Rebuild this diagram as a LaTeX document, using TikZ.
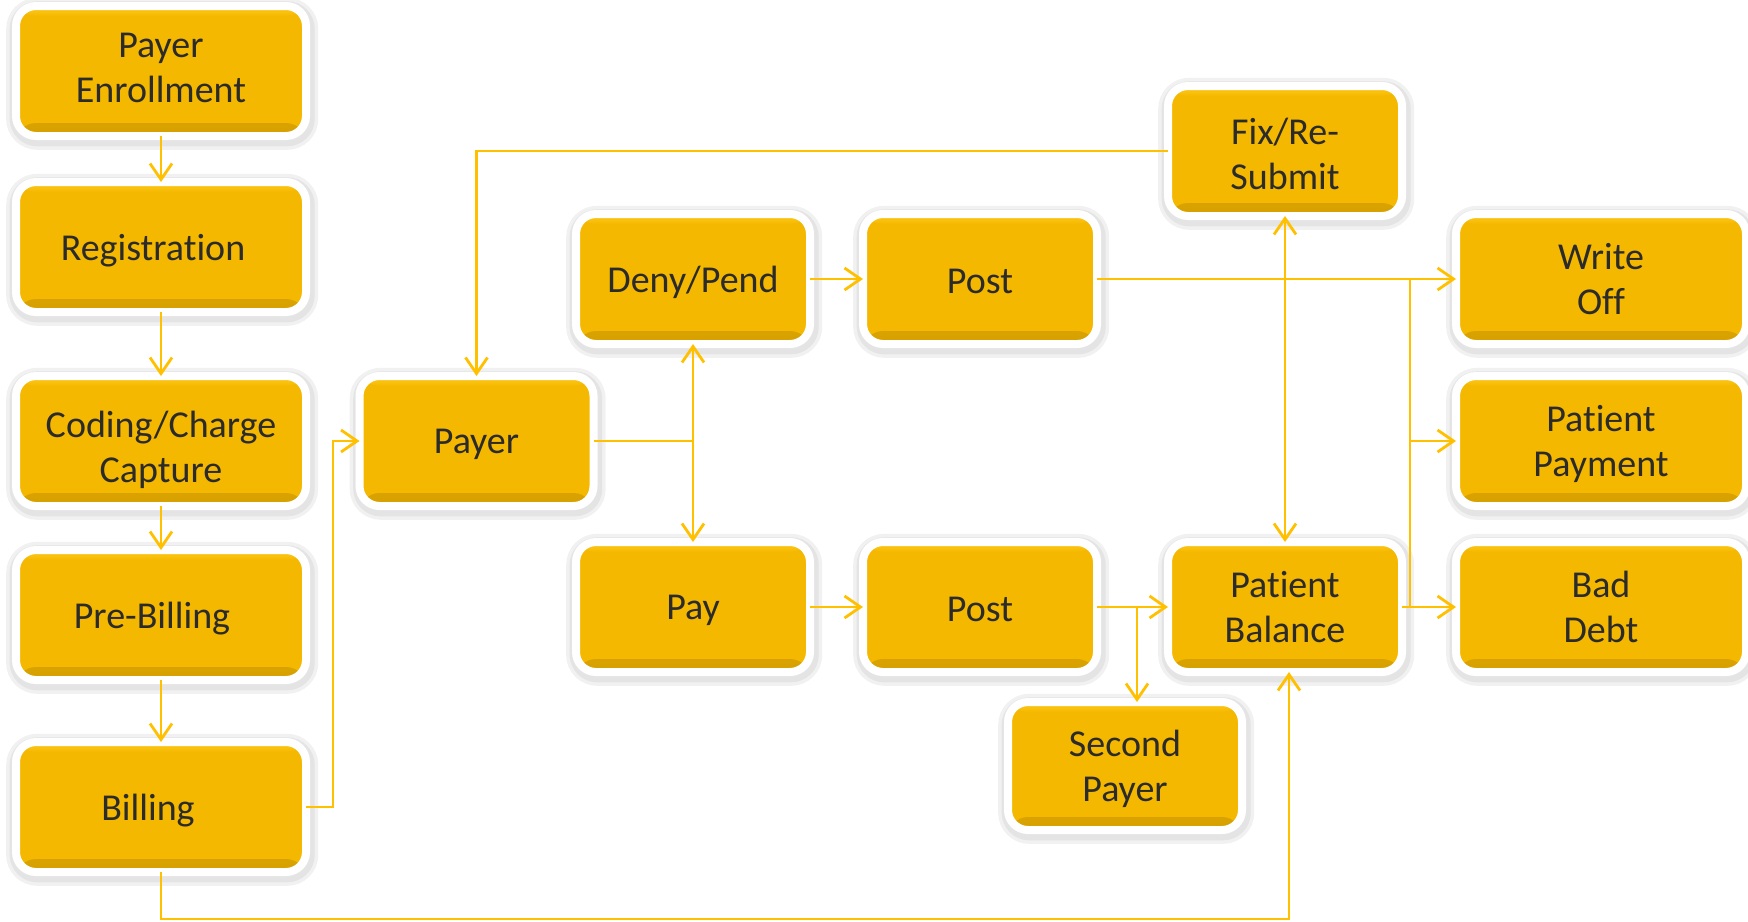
\documentclass[tikz,border=0pt]{standalone}
\usepackage{fontspec}
\setmainfont{Carlito}[Ligatures={CommonOff,ContextualOff}]
\usetikzlibrary{arrows.meta}
\definecolor{boxy}{HTML}{F5B800}
\definecolor{rim}{HTML}{D6A000}
\definecolor{lite}{HTML}{FFCB1F}
\definecolor{linec}{HTML}{FFC000}
\definecolor{txt}{HTML}{2B2B2B}
\tikzset{
  halo/.style={preaction={draw=black, line width=#1, opacity=0.055, fill=none,
      transform canvas={xshift=0.6pt, yshift=-1.4pt}}},
  box/.style={rounded corners=10pt, fill=boxy, draw=white, line width=4pt,
    inner sep=0pt, outer sep=0pt, text=txt, align=center, text depth=0pt,
    font=\fontsize{19}{22.5}\selectfont, minimum height=65pt,
    halo=11pt, halo=7.5pt,
    path picture={
      \shade[top color=boxy, bottom color=rim] (path picture bounding box.south west) rectangle ([yshift=6.5pt]path picture bounding box.south east);
      \shade[top color=lite, bottom color=boxy] (path picture bounding box.north west) rectangle ([yshift=-5pt]path picture bounding box.north east);
    }},
  wbox/.style={box, minimum width=145pt},
  mbox/.style={box, minimum width=117pt},
  conn/.style={draw=linec, line width=1.4pt},
  arr/.style={conn, -{Straight Barb[length=8pt,width=11pt]}},
  darr/.style={conn, {Straight Barb[length=8pt,width=11pt]}-{Straight Barb[length=8pt,width=11pt]}}
}
\begin{document}
\begin{tikzpicture}[x=0.5pt, y=-0.5pt]
\useasboundingbox (0,0) rectangle (1748,921);
% left column
\node[wbox, text depth=3.4pt] (pe) at (161,71) {Payer\\Enrollment};
\node[wbox] (reg) at (161,247) {\hspace*{-8pt}Registration};
\node[wbox, text height=41pt] (cod) at (161,441) {Coding/Charge\\Capture};
\node[wbox] (pre) at (161,615) {\hspace*{-9pt}Pre-Billing};
\node[wbox] (bill) at (161,807) {\hspace*{-13pt}Billing};
% middle
\node[mbox] (payer) at (476.5,441) {Payer};
\node[mbox] (deny) at (693,279) {Deny/Pend};
\node[mbox, text height=14.4pt] (post1) at (980,279) {Post};
\node[mbox] (pay) at (693,607) {Pay};
\node[mbox, text height=14.4pt] (post2) at (980,607) {Post};
\node[mbox, text height=38.5pt] (fix) at (1285,151) {Fix/Re-\\Submit};
\node[mbox] (pbal) at (1285,607) {Patient\\Balance};
\node[mbox, minimum height=64pt] (sec) at (1125,766) {Second\\Payer};
% right column
\node[wbox] (wo) at (1601,279) {Write\\Off};
\node[wbox] (ppay) at (1601,441) {Patient\\Payment};
\node[wbox] (bad) at (1601,607) {Bad\\Debt};
% coordinates
\coordinate (bx) at (333,441);
\coordinate (bb) at (1289,919);
\coordinate (vx) at (1410,279);
\coordinate (sx) at (1137,607);
% connectors left column
\draw[arr] (pe) -- (reg);
\draw[arr] (reg) -- (cod);
\draw[arr] (cod) -- (pre);
\draw[arr] (pre) -- (bill);
\draw[arr] (bill.east) -| (bx) -- (payer.west);
\draw[arr] (bill.south) |- (bb) -- (bb |- pbal.south);
% payer split
\draw[conn] (payer.east) -- (payer.east -| deny.south);
\draw[darr] (deny.south) -- (pay.north);
\draw[arr] (deny) -- (post1);
\draw[arr] (pay) -- (post2);
% fix
\draw[arr] (fix.west) -| (payer.north);
\draw[darr] (fix.south) -- (pbal.north);
% post top to right
\draw[arr] (post1.east) -- (wo.west);
\draw[conn] (vx) -- (vx |- bad.west);
\draw[arr] (vx |- ppay.west) -- (ppay.west);
\draw[arr] (pbal.east) -- (bad.west);
% post bottom
\draw[arr] (post2.east) -- (pbal.west);
\draw[arr] (sx) -- (sx |- sec.north);
\end{tikzpicture}
\end{document}
